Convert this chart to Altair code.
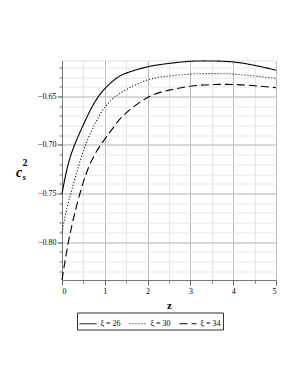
import altair as alt
import pandas as pd

z = [0, 0.1, 0.25, 0.5, 0.75, 1, 1.25, 1.5, 2, 2.5, 3, 3.5, 4, 4.5, 5]
xi26 = [-0.750, -0.728, -0.705, -0.679, -0.657, -0.642, -0.632, -0.626, -0.6195, -0.616, -0.6138, -0.6135, -0.6145, -0.618, -0.623]
xi30 = [-0.790, -0.768, -0.743, -0.706, -0.680, -0.661, -0.650, -0.643, -0.633, -0.629, -0.627, -0.6265, -0.627, -0.629, -0.6315]
xi34 = [-0.839, -0.812, -0.779, -0.738, -0.711, -0.694, -0.679, -0.667, -0.651, -0.6435, -0.6395, -0.6378, -0.6377, -0.639, -0.641]
labels = ["ξ = 26", "ξ = 30", "ξ = 34"]

x_major = [0, 1, 2, 3, 4, 5]
x_minor = [0.5, 1.5, 2.5, 3.5, 4.5]
y_major = [-0.80, -0.75, -0.70, -0.65]
y_minor = [round(-0.83 + 0.01 * i, 2) for i in range(22)]

rows = []
for lab, ys in zip(labels, [xi26, xi30, xi34]):
    for zz, yy in zip(z, ys):
        rows.append({"z": zz, "c": yy, "series": lab})
df = pd.DataFrame(rows)

FONT = "Liberation Serif"
xs = alt.Scale(domain=[0, 5], nice=False, zero=False)
ys_ = alt.Scale(domain=[-0.839, -0.613], nice=False, zero=False)

minor = alt.Chart(df).mark_point(opacity=0).encode(
    x=alt.X("z:Q", scale=xs, axis=alt.Axis(orient="bottom", values=x_minor, labels=False, title=None, grid=True,
                                           gridColor="#e6e6e6", tickSize=3, tickColor="#777", domain=False)),
    y=alt.Y("c:Q", scale=ys_, axis=alt.Axis(orient="left", values=y_minor, labels=False, title=None, grid=True,
                                            gridColor="#e6e6e6", tickSize=3, tickColor="#777", domain=False)),
)

lines = alt.Chart(df).mark_line(color="black", strokeWidth=1.1, interpolate="natural").encode(
    x=alt.X("z:Q", scale=xs, axis=alt.Axis(orient="bottom", values=x_major, format="d", title="z", grid=True,
                                           titleFont=FONT, titleFontSize=11, titleFontWeight="bold",
                                           titlePadding=4, labelFont=FONT, labelFontSize=8, labelPadding=2,
                                           gridColor="#bbbbbb", tickSize=5, tickColor="#666",
                                           domainColor="#777", labelColor="black", titleColor="black")),
    y=alt.Y("c:Q", scale=ys_, axis=alt.Axis(orient="left", values=y_major, format=".2f", title=None, grid=True,
                                            labelFont=FONT, labelFontSize=8, labelPadding=1,
                                            gridColor="#bbbbbb", tickSize=5, tickColor="#666",
                                            domainColor="#777", labelColor="black")),
    strokeDash=alt.StrokeDash("series:N", scale=alt.Scale(domain=labels, range=[[1, 0], [1, 2], [8, 4]]),
                              legend=alt.Legend(title=None, orient="none", legendX=15, legendY=252,
                                                direction="horizontal", columns=3, symbolType="stroke",
                                                symbolStrokeColor="black", symbolStrokeWidth=1,
                                                symbolSize=290, labelFont=FONT, labelFontSize=8,
                                                labelColor="black", strokeColor="#333", padding=1.5,
                                                columnPadding=5, labelOffset=3, symbolOffset=0,
                                                rowPadding=0)),
)

tc = alt.Chart(pd.DataFrame({"t": ["c"]})).mark_text(font=FONT, fontSize=14, fontWeight="bold", fontStyle="italic",
                                                    align="center", baseline="alphabetic", color="black").encode(
    text="t:N", x=alt.value(-43), y=alt.value(116.5))
ts = alt.Chart(pd.DataFrame({"t": ["s"]})).mark_text(font=FONT, fontSize=9, fontWeight="bold", fontStyle="italic",
                                                    align="left", baseline="alphabetic", color="black").encode(
    text="t:N", x=alt.value(-39.5), y=alt.value(119.5))
t2 = alt.Chart(pd.DataFrame({"t": ["2"]})).mark_text(font=FONT, fontSize=10, fontWeight="bold",
                                                    align="left", baseline="alphabetic", color="black").encode(
    text="t:N", x=alt.value(-39.5), y=alt.value(105.5))

chart = alt.layer(minor, lines, tc, ts, t2).resolve_axis(x="independent", y="independent").properties(
    width=214, height=219.5,
    autosize=alt.AutoSizeParams(type="none"),
    padding={"left": 54, "top": 52.5, "right": 14, "bottom": 60},
).configure_view(stroke="#999", strokeWidth=1).configure(background="white")

chart.save("out.html", embed_options={"renderer": "svg", "actions": False})
